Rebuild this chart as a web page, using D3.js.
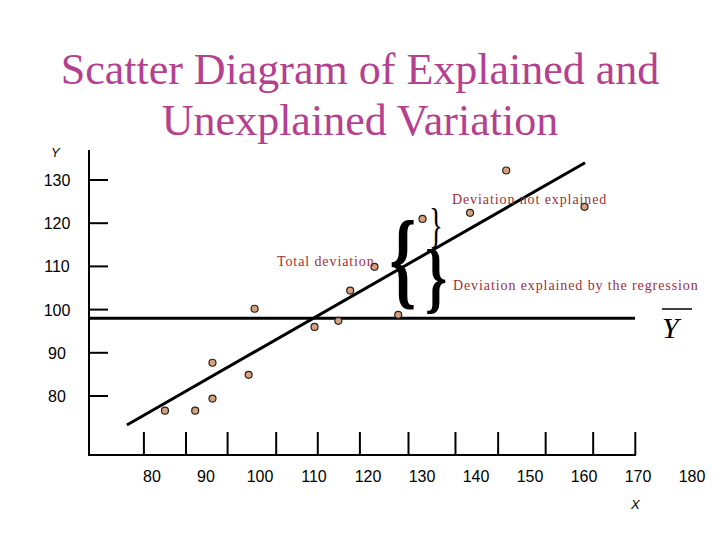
<!DOCTYPE html><html><head><meta charset="utf-8"><script src="https://d3js.org/d3.v7.min.js"></script>
<style>body{margin:0;background:#fff}</style></head><body><svg id="c" width="720" height="540"></svg>
<script>
const xLabels=[80,90,100,110,120,130,140,150,160,170,180];
const yLabels=[130,120,110,100,90,80];
const xTickMarks=[78.5,86.3,94.0,103.0,110.7,118.5,127.5,136.2,144.1,152.9,161.7,169.5];
const xs=[82.4,88.0,91.2,91.2,97.9,99.0,110.1,114.5,116.7,121.2,125.6,130.1,138.9,145.6,160.1];
const ys=[76.6,76.6,79.4,87.7,84.9,100.2,96.0,97.4,104.4,109.9,98.8,121.0,122.4,132.2,123.8];
const regLine=[[75.35,73.3],[160.2,134.0]];
const yMean=98.0;
const svg=d3.select("#c");
const x=d3.scaleLinear().domain([80,180]).range([152,692]);
const y=d3.scaleLinear().domain([80,130]).range([396,180]);
const ax=x.invert(89), bx=x.invert(635);
const serif="'Liberation Serif','Times New Roman',serif";
svg.append("text").attr("x",360).attr("y",84).attr("text-anchor","middle").attr("font-family",serif).attr("font-size",44).attr("fill","#b5408f").text("Scatter Diagram of Explained and");
svg.append("text").attr("x",360).attr("y",135).attr("text-anchor","middle").attr("font-family",serif).attr("font-size",44).attr("fill","#b5408f").text("Unexplained Variation");
svg.append("line").attr("x1",89).attr("x2",89).attr("y1",150).attr("y2",456).attr("stroke","#000").attr("stroke-width",2);
svg.append("line").attr("x1",88).attr("x2",636).attr("y1",455).attr("y2",455).attr("stroke","#000").attr("stroke-width",2);
yLabels.forEach(v=>{
 svg.append("line").attr("x1",89).attr("x2",108).attr("y1",y(v)).attr("y2",y(v)).attr("stroke","#000").attr("stroke-width",2);
 svg.append("text").attr("x",57).attr("y",y(v)+6).attr("text-anchor","middle").attr("font-family","Liberation Sans").attr("font-size",16).text(v);
});
xTickMarks.forEach(v=>{
 svg.append("line").attr("x1",x(v)).attr("x2",x(v)).attr("y1",432).attr("y2",455).attr("stroke","#000").attr("stroke-width",2);
});
xLabels.forEach(v=>{
 svg.append("text").attr("x",x(v)).attr("y",482).attr("text-anchor","middle").attr("font-family","Liberation Sans").attr("font-size",16).text(v);
});
svg.append("text").attr("x",51).attr("y",157).attr("font-family","Liberation Sans").attr("font-style","italic").attr("font-size",13).text("Y");
svg.append("text").attr("x",631).attr("y",509).attr("font-family","Liberation Sans").attr("font-style","italic").attr("font-size",13).text("X");
svg.append("line").attr("x1",x(ax)).attr("x2",x(bx)).attr("y1",y(yMean)).attr("y2",y(yMean)).attr("stroke","#000").attr("stroke-width",3);
svg.append("text").attr("x",662).attr("y",338).attr("font-family",serif).attr("font-style","italic").attr("font-size",30).text("Y");
svg.append("line").attr("x1",662).attr("x2",692).attr("y1",309).attr("y2",309).attr("stroke","#000").attr("stroke-width",1.5);
svg.append("line").attr("x1",x(regLine[0][0])).attr("y1",y(regLine[0][1])).attr("x2",x(regLine[1][0])).attr("y2",y(regLine[1][1])).attr("stroke","#000").attr("stroke-width",3);
svg.selectAll("circle.p").data(xs.map((v,i)=>[v,ys[i]])).enter().append("circle").attr("cx",d=>x(d[0])).attr("cy",d=>y(d[1])).attr("r",3.5).attr("fill","#d9a07c").attr("stroke","#222").attr("stroke-width",1.2);
function brace(ch,cx,top,bot,w,bold){
 const t=svg.append("text").attr("font-family",serif).attr("font-size",40).attr("font-weight",bold?"bold":"normal").attr("text-anchor","middle").text(ch);
 const h=bot-top; const sy=h/40;
 t.attr("transform",`translate(${cx},${bot-h*0.2}) scale(${w/20},${sy*1.25})`);
}
brace("{",403,226,312,34,true);
brace("}",436,212,250,14,false);
brace("}",436,253,316,28,true);
[["Deviation not explained",452,204],["Total deviation",277,266],["Deviation explained by the regression",453,290]].forEach(a=>{
 svg.append("text").attr("x",a[1]).attr("y",a[2]).attr("fill","#a03038").attr("font-family",serif).attr("font-size",14).attr("letter-spacing",0.9).text(a[0]);
});
</script></body></html>
